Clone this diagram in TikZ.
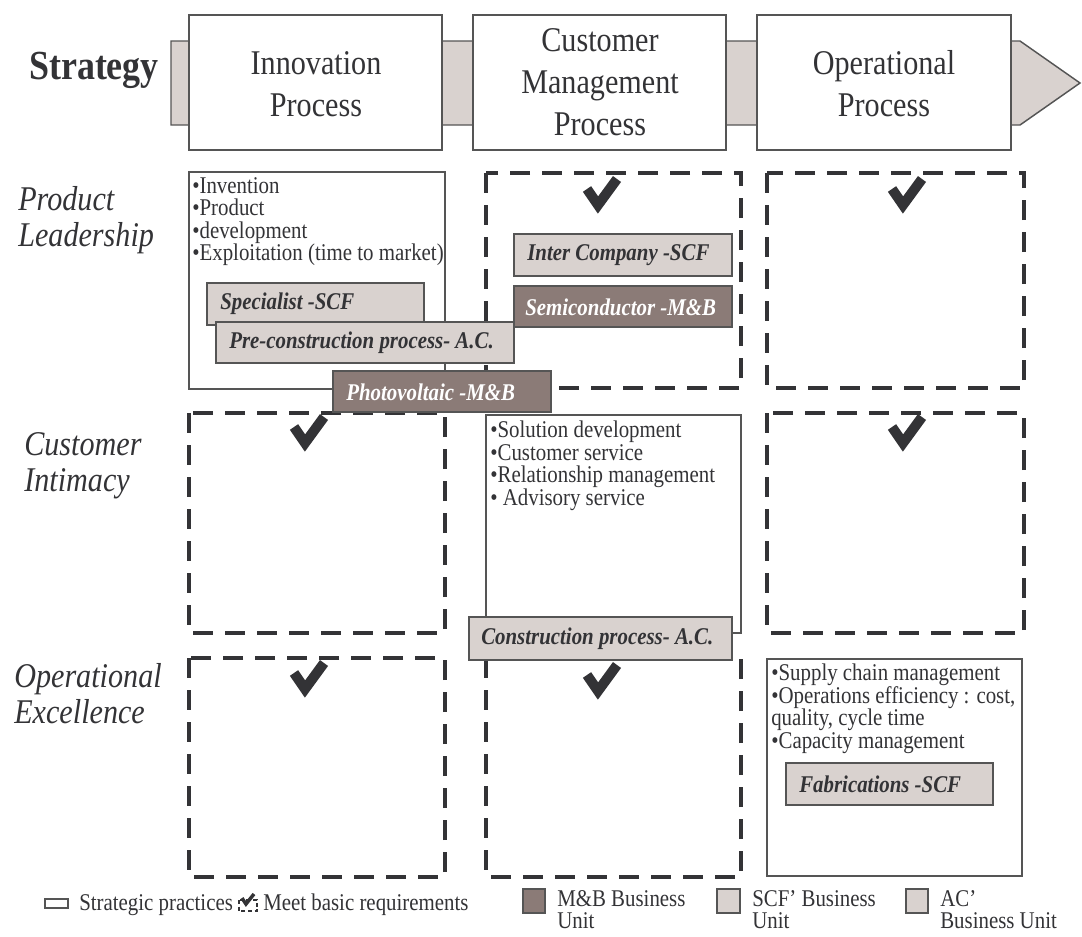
\documentclass[tikz,border=0pt]{standalone}
\usepackage{fontspec}
\setmainfont{Liberation Serif}[FakeStretch=0.87]
\definecolor{ink}{HTML}{333336}
\definecolor{edge}{HTML}{555555}
\definecolor{scfgrey}{HTML}{D9D2CF}
\definecolor{mbbrown}{HTML}{8B7B77}
\tikzset{
  hdrband/.style={draw=edge, fill=scfgrey, line width=1.1pt},
  hdrbox/.style={draw=edge, fill=white, line width=1.1pt},
  solidbox/.style={draw=edge, line width=1.1pt},
  dashbox/.style={draw=ink, line width=3.6pt, dash pattern=on 15pt off 9pt},
  lightlbl/.style={draw=edge, fill=scfgrey, line width=1.1pt},
  darklbl/.style={draw=edge, fill=mbbrown, line width=1.1pt},
  hdrtext/.style={font=\fontsize{26}{31.5}\selectfont, text=ink, align=center, inner sep=0},
  strattext/.style={font=\fontsize{31}{33}\selectfont\bfseries, text=ink, inner sep=0},
  rowtext/.style={font=\fontsize{26}{27}\selectfont\itshape, text=ink, align=left, inner sep=0, anchor=west},
  bullets/.style={font=\fontsize{18}{16.9}\selectfont, text=ink, align=left, inner sep=0, anchor=north west},
  lbltext/.style={font=\fontsize{18}{18}\selectfont\bfseries\itshape, text=ink, inner sep=0, anchor=west},
  mbtext/.style={lbltext, text=white},
  legtext/.style={font=\fontsize{18}{17}\selectfont, text=ink, align=left, inner sep=0},
  checkmark/.pic={\draw[ink, line width=7.5pt, line join=miter, miter limit=6] (-11,-24) -- (0,-8) -- (19,-34);}
}
\begin{document}
\begin{tikzpicture}[x=0.75pt, y=-0.75pt]
\useasboundingbox (0,0) rectangle (1082,936);
% header
\node[strattext] (strategy) at (94,70) {Strategy};
\draw[hdrband] (171,41) -- (1020,41) -- (1080,83) -- (1020,125) -- (171,125) -- cycle;
\draw[hdrbox] (189,15) rectangle (442,150);
\draw[hdrbox] (473,15) rectangle (726,150);
\draw[hdrbox] (757,15) rectangle (1011,150);
\node[hdrtext] (innov) at (316,84) {Innovation\\Process};
\node[hdrtext] (cust) at (600,82) {Customer\\Management\\Process};
\node[hdrtext] (oper) at (884,84) {Operational\\Process};
% rows
\node[rowtext] (prodlead) at (18,220) {Product\\Leadership};
\node[rowtext] (custint) at (24,466) {Customer\\Intimacy};
\node[rowtext] (opexc) at (14,694) {Operational\\Excellence};
% grid
\draw[solidbox] (189,172) rectangle (445,389);
\draw[dashbox] (486,173) rectangle (741,388);
\draw[dashbox] (767,173) rectangle (1024,388);
\draw[dashbox] (189,413) rectangle (445,633);
\draw[solidbox] (486,415) rectangle (741,633);
\draw[dashbox] (767,413) rectangle (1024,633);
\draw[dashbox] (189,658) rectangle (445,877);
\draw[dashbox] (486,658) rectangle (741,877);
\draw[solidbox] (767,659) rectangle (1022,876);
\pic at (598,213) {checkmark};
\pic at (903,213) {checkmark};
\pic at (305,451) {checkmark};
\pic at (903,451) {checkmark};
\pic at (305,697) {checkmark};
\pic at (598,699) {checkmark};
% practices
\node[bullets] (invbul) at (192,177) {•Invention\\•Product\\•development\\•Exploitation (time to market)};
\node[bullets] (custbul) at (490,421) {•Solution development\\•Customer service\\•Relationship management\\• Advisory service};
\node[bullets] (operbul) at (771,664) {•Supply chain management\\•Operations efficiency : cost,\\quality, cycle time\\•Capacity management};
% business units
\draw[lightlbl] (207,283) rectangle (424,325);
\node[lbltext] (spec) at (220,304) {Specialist -SCF};
\draw[lightlbl] (216,322) rectangle (514,363);
\node[lbltext] (precon) at (229,343) {Pre-construction process- A.C.};
\draw[darklbl] (333,371) rectangle (551,412);
\node[mbtext] (photo) at (346,392) {Photovoltaic -M\&B};
\draw[lightlbl] (514,234) rectangle (732,276);
\node[lbltext] (inter) at (527,255) {Inter Company -SCF};
\draw[darklbl] (514,286) rectangle (732,327);
\node[mbtext] (semi) at (525,307) {Semiconductor -M\&B};
\draw[lightlbl] (469,617) rectangle (732,660);
\node[lbltext] (constr) at (481,639) {Construction process- A.C.};
\draw[lightlbl] (786,763) rectangle (993,805);
\node[lbltext] (fab) at (799,784) {Fabrications -SCF};
% legend
\draw[solidbox] (45,899) rectangle (68,908);
\node[legtext, anchor=base west] (legstrat) at (79,910) {Strategic practices};
\draw[ink, line width=1.8pt, dash pattern=on 3pt off 2pt] (239,900) rectangle (257,911);
\draw[ink, line width=2.6pt, line join=miter] (242,898) -- (246,904) -- (254,894);
\node[legtext, anchor=base west] (legmeet) at (263,910) {Meet basic requirements};
\draw[darklbl] (523,889) rectangle (545,913);
\node[legtext, anchor=north west] (legmb) at (557,890) {M\&B Business\\Unit};
\draw[lightlbl] (717,889) rectangle (740,913);
\node[legtext, anchor=north west] (legscf) at (752,890) {SCF’ Business\\Unit};
\draw[lightlbl] (906,889) rectangle (928,913);
\node[legtext, anchor=north west] (legac) at (940,890) {AC’\\Business Unit};
\end{tikzpicture}
\end{document}
